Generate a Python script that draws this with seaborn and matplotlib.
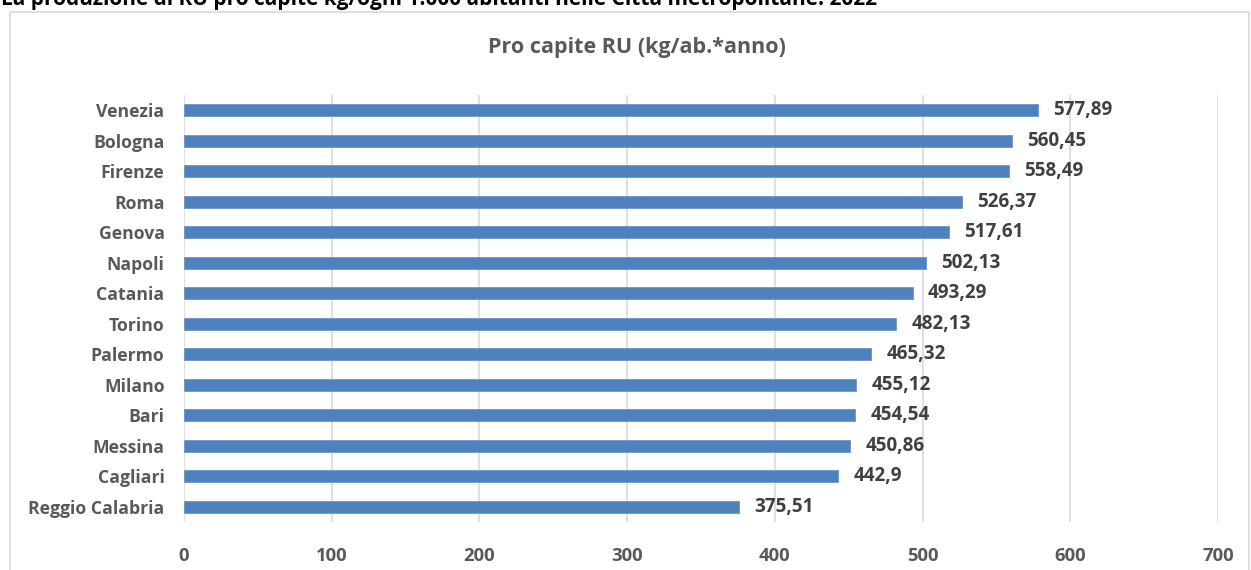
import matplotlib
matplotlib.use("Agg")
import matplotlib.pyplot as plt
import matplotlib.patches as mpatches
import seaborn as sns
import pandas as pd

cities = ["Venezia", "Bologna", "Firenze", "Roma", "Genova", "Napoli", "Catania",
          "Torino", "Palermo", "Milano", "Bari", "Messina", "Cagliari", "Reggio Calabria"]
values = [577.89, 560.45, 558.49, 526.37, 517.61, 502.13, 493.29,
          482.13, 465.32, 455.12, 454.54, 450.86, 442.9, 375.51]
value_labels = ["577,89", "560,45", "558,49", "526,37", "517,61", "502,13", "493,29",
                "482,13", "465,32", "455,12", "454,54", "450,86", "442,9", "375,51"]
x_ticks = [0, 100, 200, 300, 400, 500, 600, 700]

sns.set_theme(style="white")
plt.rcParams['font.family'] = ['Open Sans', 'DejaVu Sans']

df = pd.DataFrame({"city": cities, "value": values})

fig = plt.figure(figsize=(12.51, 5.70), dpi=100)
# chart frame
frame = mpatches.Rectangle((10/1251, -0.05), 1239/1251, 1.05 - 12/570, transform=fig.transFigure,
                           fill=False, edgecolor="#D9D9D9", linewidth=1.2, zorder=0)
fig.patches.append(frame)

ax = fig.add_axes([184/1251, 1 - 522/570, (1218 - 184)/1251, (522 - 95)/570])
sns.barplot(data=df, x="value", y="city", orient="h", color="#4F81BD", saturation=1,
            width=0.4, ax=ax, zorder=3, edgecolor="#6A95C9", linewidth=0.6)

ax.set_xlim(0, 700)
ax.set_ylim(13.5, -0.5)
ax.set_xticks(x_ticks)
ax.set_xticklabels([str(t) for t in x_ticks], fontsize=13.3, fontweight="bold", color="#595959")
ax.tick_params(axis="x", length=0, pad=18)
ax.tick_params(axis="y", length=0, pad=14)
for lbl in ax.get_yticklabels():
    lbl.set_fontsize(12.7)
    lbl.set_fontweight("bold")
    lbl.set_color("#595959")
ax.set_xlabel("")
ax.set_ylabel("")
ax.grid(axis="x", color="#D9D9D9", linewidth=1.2, zorder=0)
ax.set_axisbelow(True)
for s in ax.spines.values():
    s.set_visible(False)

for i, (v, t) in enumerate(zip(values, value_labels)):
    ax.annotate(t, xy=(v, i), xytext=(11, 0), textcoords="offset points",
                ha="left", va="center", fontsize=13.6, fontweight="bold", color="#404040")

fig.text(637/1251, 1 - 48/570, "Pro capite RU (kg/ab.*anno)", ha="center", va="center",
         fontsize=15.5, fontweight="bold", color="#595959")
fig.text(1/1251, 1 - 0/570, "La produzione di RU pro capite kg/ogni 1.000 abitanti nelle Città metropolitane: 2022",
         ha="left", va="center", fontsize=15, fontweight="bold", color="#000000")

fig.savefig("out.png", dpi=100)
